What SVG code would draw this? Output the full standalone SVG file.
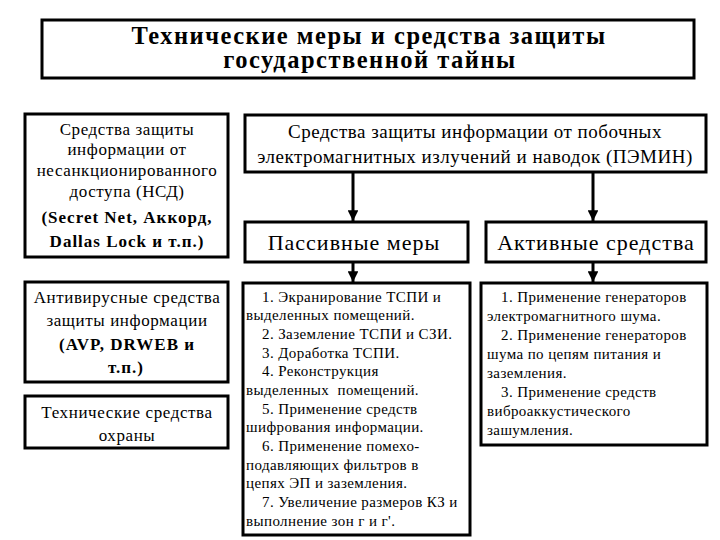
<svg xmlns="http://www.w3.org/2000/svg" width="720" height="540" viewBox="0 0 720 540">
<style>
.box{fill:#fff;stroke:#000;stroke-width:3}
text{font-family:'Liberation Serif','Times New Roman',serif;fill:#000}
.c{text-anchor:middle}
.ttl{font-size:24.5px;font-weight:bold;letter-spacing:1.5px}
.m{font-size:17px;letter-spacing:0.6px}
.mb{font-size:17px;font-weight:bold;letter-spacing:1px}
.h{font-size:19px;letter-spacing:0.5px}
.big{font-size:22px;letter-spacing:1px}
.s{font-size:15px;letter-spacing:0.4px}
.con{stroke:#000;stroke-width:3;fill:none}
</style>
<defs>
<marker id="ah" viewBox="0 0 10 10" refX="10" refY="5" markerWidth="4" markerHeight="3.6" markerUnits="strokeWidth" orient="auto">
<path d="M0,0 L10,5 L0,10 z" fill="#000"/>
</marker>
</defs>
<rect width="720" height="540" fill="#fff"/>

<g id="title">
<rect class="box" x="42" y="20" width="652" height="58" stroke-width="2.5"/>
<text class="ttl c" x="369" y="44">Технические меры и средства защиты</text>
<text class="ttl c" x="370" y="68">государственной тайны</text>
</g>

<g id="nsd">
<rect class="box" x="25" y="114" width="203" height="143"/>
<text class="m c" x="127" y="135">Средства защиты</text>
<text class="m c" x="127" y="155">информации от</text>
<text class="m c" x="127" y="176">несанкционированного</text>
<text class="m c" x="127" y="197">доступа (НСД)</text>
<text class="mb c" x="127" y="223">(Secret Net, Аккорд,</text>
<text class="mb c" x="127" y="247">Dallas Lock и т.п.)</text>
</g>

<g id="antivirus">
<rect class="box" x="25" y="282" width="203" height="100"/>
<text class="m c" x="127" y="303">Антивирусные средства</text>
<text class="m c" x="127" y="326">защиты информации</text>
<text class="mb c" x="127" y="350">(AVP, DRWEB и</text>
<text class="mb c" x="126" y="373">т.п.)</text>
</g>

<g id="guard">
<rect class="box" x="25" y="396" width="203" height="52"/>
<text class="m c" x="127" y="418">Технические средства</text>
<text class="m c" x="127" y="441">охраны</text>
</g>

<g id="pemin">
<rect class="box" x="245" y="115" width="461" height="57"/>
<text class="h c" x="475" y="138">Средства защиты информации от побочных</text>
<text class="h c" x="475" y="163">электромагнитных излучений и наводок (ПЭМИН)</text>
</g>

<g id="passive">
<rect class="box" x="245" y="222" width="223" height="40"/>
<text class="big c" x="354" y="250">Пассивные меры</text>
</g>

<g id="active">
<rect class="box" x="486" y="222" width="220" height="40"/>
<text class="big c" x="596" y="250">Активные средства</text>
</g>

<g id="passive-list">
<rect class="box" x="243" y="283" width="227" height="252"/>
<text class="s" x="262" y="302">1. Экранирование ТСПИ и</text>
<text class="s" x="246" y="320">выделенных помещений.</text>
<text class="s" x="262" y="339">2. Заземление ТСПИ и СЗИ.</text>
<text class="s" x="262" y="358">3. Доработка ТСПИ.</text>
<text class="s" x="262" y="376">4. Реконструкция</text>
<text class="s" x="246" y="395" xml:space="preserve">выделенных  помещений.</text>
<text class="s" x="262" y="414">5. Применение средств</text>
<text class="s" x="246" y="432">шифрования информации.</text>
<text class="s" x="262" y="451">6. Применение помехо-</text>
<text class="s" x="246" y="470">подавляющих фильтров в</text>
<text class="s" x="246" y="488">цепях ЭП и заземления.</text>
<text class="s" x="262" y="507">7. Увеличение размеров КЗ и</text>
<text class="s" x="246" y="526">выполнение зон г и г'.</text>
</g>

<g id="active-list">
<rect class="box" x="481" y="283" width="226" height="162"/>
<text class="s" x="501" y="302">1. Применение генераторов</text>
<text class="s" x="487" y="321">электромагнитного шума.</text>
<text class="s" x="501" y="340">2. Применение генераторов</text>
<text class="s" x="487" y="359">шума по цепям питания и</text>
<text class="s" x="487" y="378">заземления.</text>
<text class="s" x="501" y="397">3. Применение средств</text>
<text class="s" x="487" y="416">виброаккустического</text>
<text class="s" x="487" y="435">зашумления.</text>
</g>

<g id="connectors">
<line class="con" x1="353" y1="172" x2="353" y2="221" marker-end="url(#ah)"/>
<line class="con" x1="593" y1="172" x2="593" y2="221" marker-end="url(#ah)"/>
<line class="con" x1="353" y1="262" x2="353" y2="282" marker-end="url(#ah)"/>
<line class="con" x1="593" y1="262" x2="593" y2="282" marker-end="url(#ah)"/>
</g>
</svg>
